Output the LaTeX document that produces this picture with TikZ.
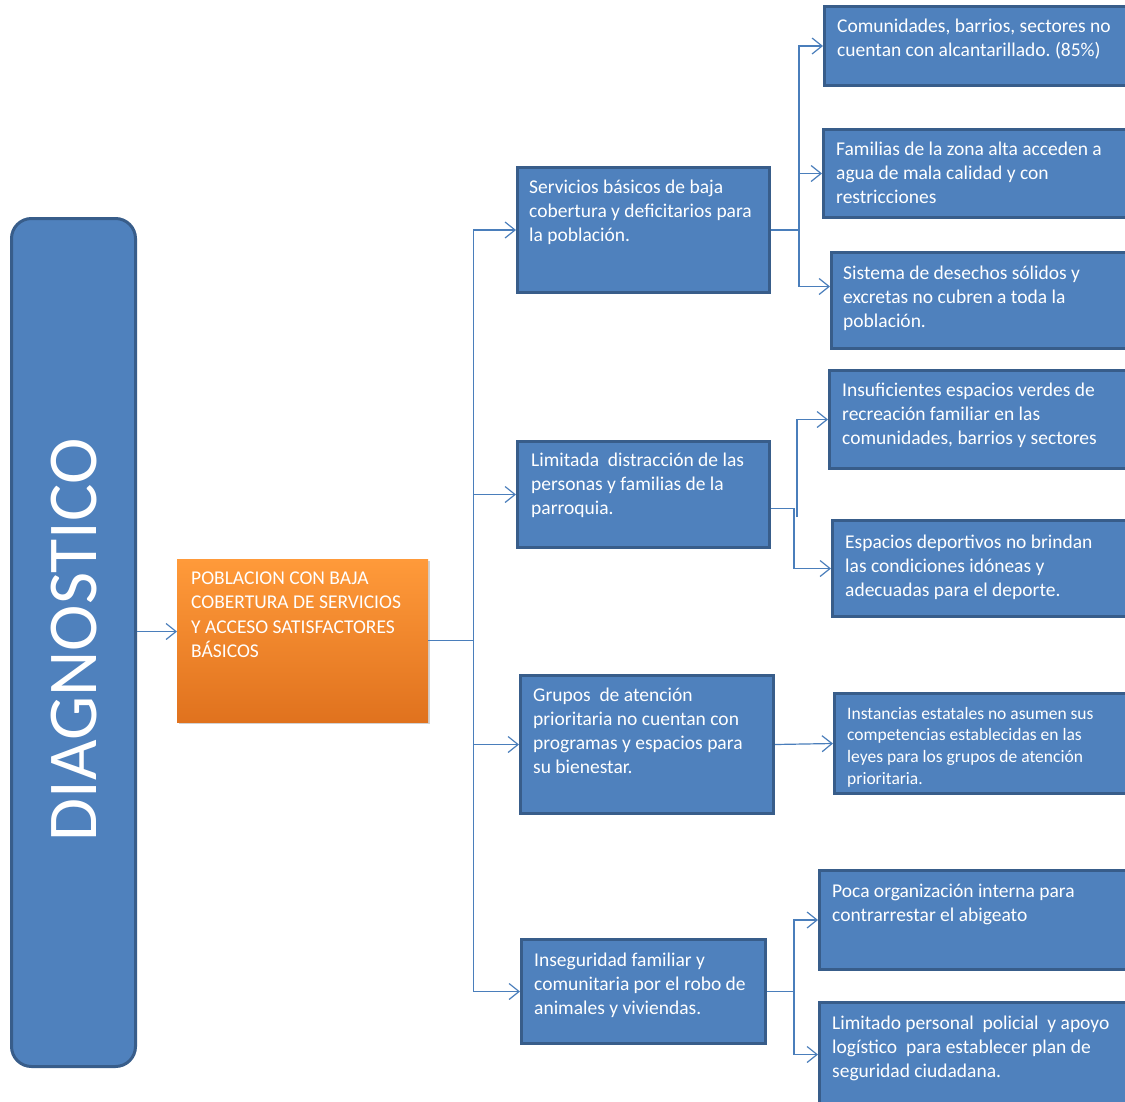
\documentclass[tikz,border=0pt]{standalone}
\usepackage{fontspec}
\setmainfont{Carlito}
\usetikzlibrary{arrows.meta,shadows}
\definecolor{boxfill}{HTML}{4F81BD}
\definecolor{boxline}{HTML}{385D8A}
\definecolor{connc}{HTML}{4A7EBB}
\definecolor{orgtop}{HTML}{FF9A3A}
\definecolor{orgbot}{HTML}{E0721E}
\newcommand\fst{\rule{0pt}{20pt}}
\frenchspacing
\tikzset{
 bbox/.style={draw=boxline, fill=boxfill, line width=3pt, anchor=north west, inner sep=0pt,
   drop shadow={opacity=0.25, shadow xshift=1.5pt, shadow yshift=-1.5pt}},
 txt/.style={anchor=north west, inner sep=0pt, align=left, text=white, font=\fontsize{19.5}{24}\selectfont},
 link/.style={draw=connc, line width=1.2pt},
 arr/.style={link, -{Straight Barb[length=10pt,width=16pt]}},
}
\begin{document}
\begin{tikzpicture}[x=1pt,y=-1pt]
\useasboundingbox (0,0) rectangle (1125,1101);
\clip (0,0) rectangle (1125,1101);
\fill[white] (0,0) rectangle (1125,1101);
% left column
\node[draw=boxline, fill=boxfill, line width=3pt, rounded corners=20pt, anchor=north west, inner sep=0pt,
  minimum width=124pt, minimum height=848pt] (diag) at (10,217) {};
\node[rotate=90, text=white, inner sep=0pt, font=\fontsize{70}{70}\selectfont] (diagt) at (74,640) {DIAGNOSTICO};
% central box
\node[anchor=north west, inner sep=0pt, minimum width=251pt, minimum height=163pt,
  top color=orgtop, bottom color=orgbot, drop shadow={opacity=0.35, shadow xshift=2pt, shadow yshift=-2pt}] (org) at (177,559) {};
\node[txt, font=\fontsize{19.5}{24.5}\selectfont] (orgt) at (191,564) {\fst POBLACION CON BAJA\\COBERTURA DE SERVICIOS\\Y ACCESO SATISFACTORES\\BÁSICOS};
% middle boxes
\node[bbox, minimum width=252pt, minimum height=125pt] (m1) at (516,166) {};
\node[bbox, minimum width=252pt, minimum height=106pt] (m2) at (516,440) {};
\node[bbox, minimum width=253pt, minimum height=138pt] (m3) at (519,674) {};
\node[bbox, minimum width=244pt, minimum height=104pt] (m4) at (520,938) {};
\node[txt] (m1t) at (529,173) {\fst Servicios básicos de baja\\cobertura y deficitarios para\\la población.};
\node[txt] (m2t) at (531,446) {\fst Limitada\ \ distracción de las\\personas y familias de la\\parroquia.};
\node[txt] (m3t) at (533,681) {\fst Grupos\ \ de atención\\prioritaria no cuentan con\\programas y espacios para\\su bienestar.};
\node[txt] (m4t) at (534,946) {\fst Inseguridad familiar y\\comunitaria por el robo de\\animales y viviendas.};
% right boxes
\node[bbox, minimum width=320pt, minimum height=79pt] (r1) at (823,5) {};
\node[bbox, minimum width=320pt, minimum height=88pt] (r2) at (822,128) {};
\node[bbox, minimum width=320pt, minimum height=96pt] (r3) at (830,251) {};
\node[bbox, minimum width=320pt, minimum height=98pt] (r4) at (828,369) {};
\node[bbox, minimum width=320pt, minimum height=96pt] (r5) at (831,519) {};
\node[bbox, minimum width=320pt, minimum height=100pt] (r6) at (833,692) {};
\node[bbox, minimum width=320pt, minimum height=99pt] (r7) at (818,869) {};
\node[bbox, minimum width=320pt, minimum height=104pt] (r8) at (818,1001) {};
\node[txt] (r1t) at (837,12) {\fst Comunidades, barrios, sectores no\\cuentan con alcantarillado. (85\%)};
\node[txt] (r2t) at (836,135) {\fst Familias de la zona alta acceden a\\agua de mala calidad y con\\restricciones};
\node[txt] (r3t) at (843,259) {\fst Sistema de desechos sólidos y\\excretas no cubren a toda la\\población.};
\node[txt] (r4t) at (842,376) {\fst Insuficientes espacios verdes de\\recreación familiar en las\\comunidades, barrios y sectores};
\node[txt] (r5t) at (845,528) {\fst Espacios deportivos no brindan\\las condiciones idóneas y\\adecuadas para el deporte.};
\node[txt, font=\fontsize{17.5}{21.7}\selectfont] (r6t) at (847,699) {\fst Instancias estatales no asumen sus\\competencias establecidas en las\\leyes para los grupos de atención\\prioritaria.};
\node[txt] (r7t) at (832,877) {\fst Poca organización interna para\\contrarrestar el abigeato};
\node[txt] (r8t) at (832,1009) {\fst Limitado personal\ \ policial\ \ y apoyo\\logístico\ \ para establecer plan de\\seguridad ciudadana.};
% connectors
\draw[arr] ([yshift=11pt]diag.east) -- ([yshift=11pt]diag.east -| org.west);
\draw[link] (org.east) -- ++(45,0) coordinate (bus);
\draw[arr] (bus) |- (m1.west);
\draw[arr] (bus) |- (m2.west);
\draw[arr] (bus) |- (m3.west);
\draw[arr] (bus) |- (m4.west);
\draw[link] (m1.east) -- ++(28,0) coordinate (b1);
\draw[arr] (b1) |- (r1.west);
\draw[arr] (b1) |- (r2.west);
\draw[arr] (b1) |- ([yshift=14pt]r3.west);
\draw[arr] ([yshift=-14pt]m2.east) -- ++(23,0) |- (r5.west);
\coordinate (c4) at (797,517);
\draw[arr] (c4) |- (r4.west);
\draw[arr] (m3.east) -- (r6.west);
\draw[link] (m4.east) -- ++(27,0) coordinate (b4);
\draw[arr] (b4) |- (r7.west);
\draw[arr] (b4) |- (r8.west);
\end{tikzpicture}
\end{document}
